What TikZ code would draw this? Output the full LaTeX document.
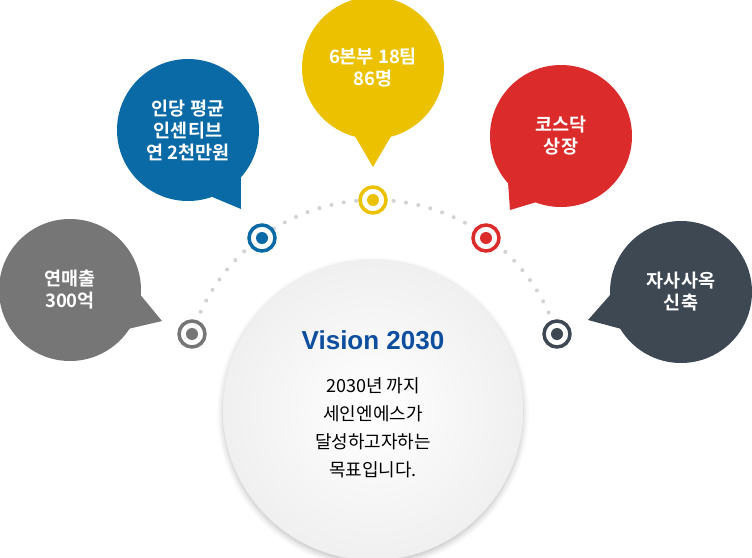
\documentclass[tikz,border=0pt]{standalone}
\usepackage{fontspec}
\setmainfont{Noto Sans CJK KR}
\newfontfamily\kb{Noto Sans CJK KR Bold}
\newfontfamily\vs{Liberation Sans}
\usetikzlibrary{calc,shadows.blur}
\definecolor{cg}{HTML}{767676}
\definecolor{cb}{HTML}{0A6AA6}
\definecolor{cy}{HTML}{ECC200}
\definecolor{cr}{HTML}{DB2B2B}
\definecolor{cd}{HTML}{3D4853}
\definecolor{vb}{HTML}{0D4E9F}
\tikzset{
  bub/.style={circle,minimum size=142pt,inner sep=0pt,text=white,font=\kb\fontsize{18.5}{22}\selectfont,align=center},
  mk/.style={circle,line width=3.5pt,minimum size=26pt,inner sep=0pt,fill=white},
}
\newcommand{\bubble}[5]{% name, color, center, tip, text
  \coordinate (#1tip) at #4;
  \fill[#2] let \p1=#3, \p2=#4, \n1={atan2(\y2-\y1,\x2-\x1)} in
    ($(\p1)+(\n1+17:68pt)$) -- (#1tip) -- ($(\p1)+(\n1-17:68pt)$) -- cycle;
  \node[bub,fill=#2] (#1) at #3 {#5};
}
\begin{document}
\begin{tikzpicture}[x=1pt,y=-1pt]
\useasboundingbox (0,0) rectangle (752,557);
% center circle
\node[circle,minimum size=300pt,inner sep=0pt,draw=gray!15,inner color=white,outer color=gray!12,
  blur shadow={shadow xshift=0pt,shadow yshift=-3pt,shadow blur radius=6pt,shadow opacity=25}] (c) at (373,410) {};
% dotted arc
\draw[gray!35,line width=4pt,line cap=round,dash pattern=on 0pt off 12.5pt]
  (374.5,391) ++(-163:191) arc[start angle=-163,end angle=-17,radius=191];
\node[text=vb,font=\vs\bfseries\fontsize{26}{30}\selectfont] (v) at (373,340) {Vision 2030};
\node[align=center,font=\fontsize{18}{28}\selectfont] (t) at (373,428) {2030년 까지\\세인엔에스가\\달성하고자하는\\목표입니다.};
% bubbles
\bubble{g}{cg}{(70,290)}{(162,321)}{연매출\\300억}
\bubble{b}{cb}{(188,130)}{(241,209)}{인당 평균\\인센티브\\연 2천만원}
\bubble{y}{cy}{(373,68)}{(373,167)}{6본부 18팀\\86명}
\bubble{r}{cr}{(561,136)}{(510,210)}{코스닥\\상장}
\bubble{d}{cd}{(681,292)}{(588,320)}{자사사옥\\신축}
% markers
\foreach \n/\c/\p in {mg/cg/{(192,334)},mb/cb/{(262,238)},my/cy/{(373,200)},mr/cr/{(486,238)},md/cd/{(557,334)}}{
  \node[mk,draw=\c] (\n) at \p {};
  \fill[\c] (\n) circle (6pt);
}
\end{tikzpicture}
\end{document}
